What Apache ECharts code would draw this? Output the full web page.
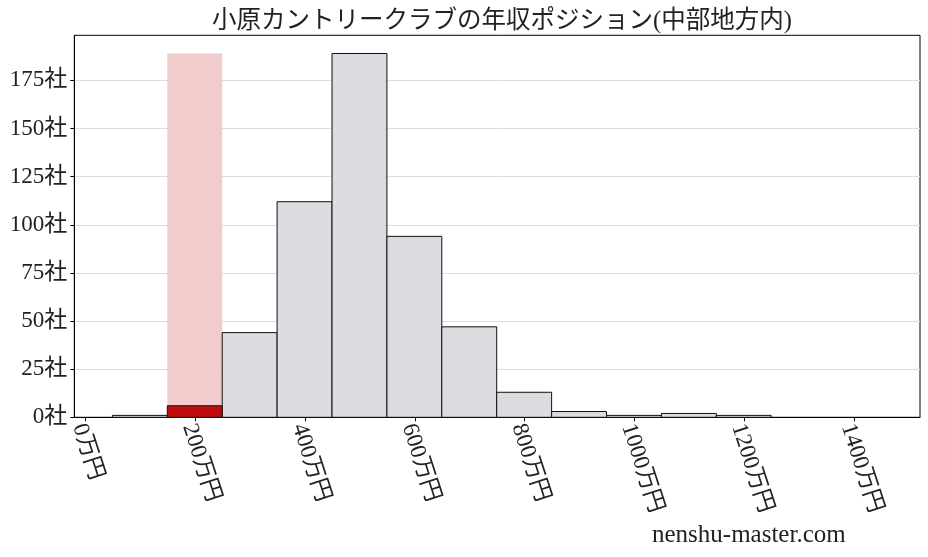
<!DOCTYPE html>
<html><head><meta charset="utf-8">
<script src="https://cdn.jsdelivr.net/npm/echarts@6/dist/echarts.min.js"></script>
<style>html,body{margin:0;padding:0;background:#fff}#c{width:928px;height:557px}</style>
</head><body><div id="c"></div>
<script>
const titleText = '小原カントリークラブの年収ポジション(中部地方内)';
const watermark = 'nenshu-master.com';
const binStarts = [49, 149, 249, 349, 449, 549, 649, 749, 849, 949, 1049, 1149];
const binWidth = 100;
const counts = [1, 6, 44, 112, 189, 94, 47, 13, 3, 1, 2, 1];
const highlightIndex = 1;
const xTicks = [0, 200, 400, 600, 800, 1000, 1200, 1400];
const yTicks = [0, 25, 50, 75, 100, 125, 150, 175];

const FONT = "'Liberation Serif','DejaVu Serif','Noto Sans CJK JP',serif";

// dotted hatch pattern
const pc = document.createElement('canvas');
pc.width = 8; pc.height = 8;
const g = pc.getContext('2d');
g.fillStyle = '#dcdde0'; g.fillRect(0, 0, 8, 8);
g.fillStyle = '#c3c4c8';
g.fillRect(1, 1, 1, 1); g.fillRect(5, 5, 1, 1);
const pattern = { image: pc, repeat: 'repeat' };

const maxCount = Math.max(...counts);
const grayData = [], redData = [], pinkData = [];
binStarts.forEach((s, i) => {
  const row = [s, s + binWidth, counts[i]];
  if (i === highlightIndex) { redData.push(row); pinkData.push([s, s + binWidth, maxCount]); }
  else grayData.push(row);
});

function makeRender(fill, stroke) {
  return function (params, api) {
    const p0 = api.coord([api.value(0), api.value(2)]);
    const p1 = api.coord([api.value(1), 0]);
    return {
      type: 'rect',
      shape: { x: p0[0], y: p0[1], width: p1[0] - p0[0], height: p1[1] - p0[1] },
      style: { fill: fill, stroke: stroke, lineWidth: stroke ? 1 : 0 }
    };
  };
}

const chart = echarts.init(document.getElementById('c'), null, { renderer: 'canvas' });
chart.setOption({
  animation: false,
  backgroundColor: '#fff',
  title: {
    text: titleText, left: 497, top: 4, textAlign: 'center',
    textStyle: { fontFamily: FONT, fontSize: 24.5, fontWeight: 'normal', color: '#222' }
  },
  graphic: [{
    type: 'text', left: 652, top: 523,
    style: { text: watermark, fontFamily: FONT, fontSize: 25, fill: '#222' }
  }],
  grid: { left: 74.3, right: 8, top: 35.3, bottom: 139.7, show: true, borderColor: '#000', borderWidth: 1, backgroundColor: 'transparent' },
  xAxis: {
    type: 'value', min: -20.4, max: 1520,
    axisLine: { show: true, onZero: false, lineStyle: { color: '#000' } },
    axisTick: { show: true, length: 4, customValues: xTicks, lineStyle: { color: '#000' } },
    axisLabel: {
      customValues: xTicks, rotate: -72, margin: 5, verticalAlign: 'top', lineHeight: 14,
      fontFamily: FONT, fontSize: 23, color: '#222',
      formatter: v => v + '万円'
    },
    splitLine: { show: false }
  },
  yAxis: {
    type: 'value', min: 0, max: 198.45, interval: 25,
    axisLine: { show: true, onZero: false, lineStyle: { color: '#000' } },
    axisTick: { show: true, length: 4, customValues: yTicks, lineStyle: { color: '#000' } },
    axisLabel: {
      customValues: yTicks, margin: 7,
      fontFamily: FONT, fontSize: 23, color: '#222',
      formatter: v => v + '社'
    },
    splitLine: { show: true, lineStyle: { color: '#dddddd', width: 1 } }
  },
  series: [
    { type: 'custom', renderItem: makeRender('#f0cccd', null), data: pinkData, z: 1, clip: true },
    { type: 'custom', renderItem: makeRender(pattern, '#111'), data: grayData, z: 2, clip: true },
    { type: 'custom', renderItem: makeRender('#c00c0c', '#111'), data: redData, z: 3, clip: true }
  ]
});
</script></body></html>
